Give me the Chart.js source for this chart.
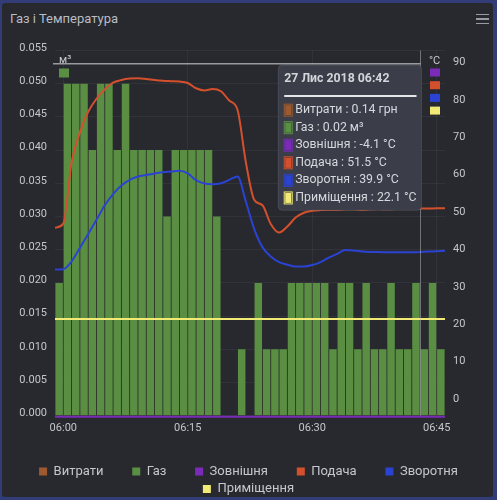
<!DOCTYPE html>
<html><head><meta charset="utf-8">
<script src="https://cdn.jsdelivr.net/npm/chart.js@4/dist/chart.umd.min.js"></script>
<style>
html,body{margin:0;padding:0;width:497px;height:500px;overflow:hidden;background:#323d78;font-family:Roboto,sans-serif;}
#card{position:absolute;left:2px;top:3px;width:491px;height:494px;background:#28292e;border-radius:3px;}
#title{position:absolute;left:10px;top:11px;font-size:13px;line-height:normal;color:#b9bcc5;}
.hb{position:absolute;left:476px;width:13px;height:1.6px;background:#9a9ca4;}
canvas{position:absolute;left:0;top:0;}
</style></head><body>
<div id="card"></div>
<div id="title">Газ і Температура</div>
<div class="hb" style="top:13.5px"></div>
<div class="hb" style="top:18.2px"></div>
<div class="hb" style="top:22.9px"></div>
<canvas id="c" width="497" height="500"></canvas>
<script>
// ---- data ----
const minutes = [-1,0,1,2,3,4,5,6,7,8,9,10,11,12,13,14,15,16,17,18,19,20,21,22,23,24,25,26,27,28,29,30,31,32,33,34,35,36,37,38,39,40,41,42,43,44,45,46];
const gas = [0.02,0.05,0.05,0.05,0.04,0.05,0.05,0.04,0.05,0.04,0.04,0.04,0.04,0.03,0.04,0.04,0.04,0.04,0.04,0.03,0,0,0.01,0,0.02,0.01,0.01,0.01,0.02,0.02,0.02,0.02,0.02,0.01,0.02,0.02,0.01,0.02,0.01,0.01,0.02,0.01,0.01,0.02,0.01,0.02,0.01,null];
const cost = [0.14,0.35,0.35,0.35,0.28,0.35,0.35,0.28,0.35,0.28,0.28,0.28,0.28,0.21,0.28,0.28,0.28,0.28,0.28,0.21,0,0,0.07,0,0.14,0.07,0.07,0.07,0.14,0.14,0.14,0.14,0.14,0.07,0.14,0.14,0.07,0.14,0.07,0.07,0.14,0.07,0.07,0.14,0.07,0.14,0.07,null];
const outdoor = [-4.1,-4.1,-4.1,-4.1,-4.1,-4.1,-4.1,-4.1,-4.1,-4.1,-4.1,-4.1,-4.1,-4.1,-4.1,-4.1,-4.1,-4.1,-4.1,-4.1,-4.1,-4.1,-4.1,-4.1,-4.1,-4.1,-4.1,-4.1,-4.1,-4.1,-4.1,-4.1,-4.1,-4.1,-4.1,-4.1,-4.1,-4.1,-4.1,-4.1,-4.1,-4.1,-4.1,-4.1,-4.1,-4.1,-4.1,-4.1];
const supply = [46.5,47.6,64,72,77.5,81,83.5,85.3,86,86.4,86.5,86.3,86,85.8,85.7,85.6,85.2,83.8,83.2,83.6,83,80.5,78,64,54,52.5,47.5,45.2,46.8,49.2,50.5,51,51.2,51.3,51.3,51.4,51.4,51.3,51.4,51.5,51.4,51.5,51.5,51.5,51.6,51.6,51.7,51.7];
const returnFlow = [35.3,35.4,37.5,41.1,44.8,48.6,52.5,55.5,57.8,59.3,60.2,60.6,61,61.3,61.5,61.7,61,59.2,58.3,58.1,58.4,59.3,60.2,53.5,46.2,41.3,38.8,37.3,36.6,36.1,36.1,36.5,37.3,38.5,39.5,40.5,40.4,40.1,40,40,39.9,39.9,39.9,39.9,40,40.1,40.2,40.3];
const room = [22.1,22.1,22.1,22.1,22.1,22.1,22.1,22.1,22.1,22.1,22.1,22.1,22.1,22.1,22.1,22.1,22.1,22.1,22.1,22.1,22.1,22.1,22.1,22.1,22.1,22.1,22.1,22.1,22.1,22.1,22.1,22.1,22.1,22.1,22.1,22.1,22.1,22.1,22.1,22.1,22.1,22.1,22.1,22.1,22.1,22.1,22.1,22.1];
const seriesNames = ['Витрати','Газ','Зовнішня','Подача','Зворотня','Приміщення'];
const units = ['грн','м³','°C','°C','°C','°C'];
const decimals = [2,2,1,1,1,1];
const xTicks = [0,15,30,45];
const xTickLabels = ['06:00','06:15','06:30','06:45'];
const gasTicks = [0,0.005,0.01,0.015,0.02,0.025,0.03,0.035,0.04,0.045,0.05,0.055];
const tempTicks = [0,10,20,30,40,50,60,70,80,90];
const dateLabel = '27 Лис 2018';
const hoverMinute = 42;
const crosshairMinute = 43.05;
const crosshairGas = 0.053;
const colors = ['#9c5a2e','#5a8f43','#7a2cb8','#d4502d','#2b43d2','#f1ea74'];

// ---- chart ----
Chart.defaults.font.family = 'Roboto';
Chart.defaults.color = '#c3c6cc';
const pad2 = n => (n < 10 ? '0' : '') + n;
const minuteLabel = m => m < 0 ? '05:' + pad2(60 + m) : '06:' + pad2(m);
const xy = (arr, shift) => arr.map((v, i) => ({x: minutes[i] + shift, y: v}));

Chart.Tooltip.positioners.besideCrosshair = function () {
  const c = this.chart;
  return {x: c.scales.x.getPixelForValue(crosshairMinute) - 3, y: c.chartArea.top + 14.5};
};

const decor = {
  id: 'decor',
  afterDatasetsDraw(ch) {
    const {ctx, chartArea: a, scales} = ch;
    const cx = scales.x.getPixelForValue(crosshairMinute);
    const cy = scales.yGas.getPixelForValue(crosshairGas);
    ctx.save();
    ctx.strokeStyle = 'rgba(190,192,198,0.5)'; ctx.lineWidth = 1;
    ctx.beginPath(); ctx.moveTo(cx, a.top); ctx.lineTo(cx, a.bottom); ctx.stroke();
    ctx.strokeStyle = 'rgba(200,202,208,0.7)'; ctx.lineWidth = 1.5;
    ctx.beginPath(); ctx.moveTo(a.left - 2, cy); ctx.lineTo(cx, cy); ctx.stroke();
    ctx.font = '11px Roboto'; ctx.textBaseline = 'alphabetic'; ctx.fillStyle = '#c8cad0';
    ctx.fillText(units[1], a.left + 4, a.top + 12);
    ctx.fillText('°C', a.right - 16, a.top + 13);
    ctx.fillStyle = colors[1]; ctx.fillRect(a.left + 4, a.top + 18, 10, 9);
    [2, 3, 4, 5].forEach((d, k) => { ctx.fillStyle = colors[d]; ctx.fillRect(a.right - 15, a.top + 18 + k * 12.7, 10, 8); });
    ctx.restore();
  },
  afterTooltipDraw(ch, args) {
    const t = args.tooltip; const ctx = ch.ctx;
    if (!t || !t.opacity) return;
    ctx.save();
    ctx.strokeStyle = '#e4e5e8'; ctx.lineWidth = 2;
    ctx.beginPath(); ctx.moveTo(t.x + 6, t.y + 31); ctx.lineTo(t.x + t.width - 5, t.y + 31); ctx.stroke();
    ctx.restore();
  }
};

const lineDs = (i, arr, extra) => Object.assign({
  type: 'line', label: seriesNames[i], data: xy(arr, 0), yAxisID: 'yTemp',
  borderColor: colors[i], backgroundColor: colors[i], borderWidth: 2,
  pointRadius: 0, pointHoverRadius: 0, cubicInterpolationMode: 'monotone', order: 1
}, extra || {});

const chart = new Chart(document.getElementById('c'), {
  type: 'line',
  data: {
    datasets: [
      lineDs(0, cost, {yAxisID: 'yCost', showLine: false}),
      {type: 'bar', label: seriesNames[1], data: xy(gas, 0.5), yAxisID: 'yGas',
       backgroundColor: colors[1], borderWidth: 0, barPercentage: 0.9, categoryPercentage: 1, order: 10},
      lineDs(2, outdoor, {clip: 6}),
      lineDs(3, supply),
      lineDs(4, returnFlow),
      lineDs(5, room)
    ]
  },
  options: {
    responsive: false, animation: false, devicePixelRatio: 1,
    interaction: {mode: 'index', intersect: false},
    layout: {padding: {top: 50.5, left: 0, right: 0, bottom: -5.5}},
    scales: {
      x: {type: 'linear', min: -1, max: 46, offset: false,
          grid: {color: 'rgba(255,255,255,0.05)', drawTicks: false, offset: false}, border: {display: false},
          ticks: {font: {size: 11}, color: '#c3c6cc', padding: 6, maxRotation: 0, autoSkip: false,
                  callback: v => { const i = xTicks.indexOf(v); return i >= 0 ? xTickLabels[i] : ''; }},
          afterBuildTicks: s => { s.ticks = xTicks.map(v => ({value: v})); },
          afterFit: s => { s.height = 44.8; }},
      yGas: {type: 'linear', position: 'left', min: 0, max: 0.055,
          grid: {color: 'rgba(255,255,255,0.05)', drawTicks: false}, border: {display: false},
          ticks: {font: {size: 11}, color: '#c3c6cc', padding: 8, labelOffset: -2.5, callback: v => Number(v).toFixed(3)},
          afterBuildTicks: s => { s.ticks = gasTicks.map(v => ({value: v})); },
          afterFit: s => { s.width = 55; }},
      yTemp: {type: 'linear', position: 'right', min: -3.8, max: 93.9,
          grid: {display: false, drawTicks: false}, border: {display: false},
          ticks: {font: {size: 11}, color: '#c3c6cc', padding: 8, labelOffset: -2.5, callback: v => String(v)},
          afterBuildTicks: s => { s.ticks = tempTicks.map(v => ({value: v})); },
          afterFit: s => { s.width = 52; }},
      yCost: {type: 'linear', display: false, min: 0, max: 1}
    },
    plugins: {
      title: {display: false},
      legend: {position: 'bottom',
        labels: {boxWidth: 8, boxHeight: 8, padding: 4.5, font: {size: 13}, color: '#c4c7ce',
          generateLabels: ch => ch.data.datasets.map((d, i) => ({
            text: d.label + (i < 4 ? '\u2003\u2002\u2004' : ''), fillStyle: colors[i], strokeStyle: colors[i],
            lineWidth: 0, hidden: false, datasetIndex: i, fontColor: '#c4c7ce'}))}},
      tooltip: {enabled: true, position: 'besideCrosshair', xAlign: 'right', yAlign: 'top',
        caretSize: 0, caretPadding: 0, cornerRadius: 4,
        backgroundColor: '#3b3e49', borderColor: 'rgba(255,255,255,0.1)', borderWidth: 1,
        titleFont: {size: 12.3, weight: 'bold'}, titleColor: '#d3d5da', titleMarginBottom: 16,
        bodyFont: {size: 12.3}, bodyColor: '#d6d8dd', bodySpacing: 2.8,
        padding: {top: 7, bottom: 5, left: 6, right: 5},
        boxWidth: 8, boxHeight: 12, boxPadding: 1, multiKeyBackground: 'transparent',
        callbacks: {
          title: items => dateLabel + ' ' + minuteLabel(minutes[items[0].dataIndex]),
          label: c => seriesNames[c.datasetIndex] + ' : ' + c.parsed.y.toFixed(decimals[c.datasetIndex]) + ' ' + units[c.datasetIndex],
          labelColor: c => ({borderColor: colors[c.datasetIndex], backgroundColor: colors[c.datasetIndex], borderWidth: 1})
        }}
    }
  },
  plugins: [decor]
});

const hoverIndex = minutes.indexOf(hoverMinute);
chart.tooltip.setActiveElements(
  seriesNames.map((_, d) => ({datasetIndex: d, index: hoverIndex})),
  {x: chart.scales.x.getPixelForValue(crosshairMinute), y: chart.scales.yGas.getPixelForValue(crosshairGas)});
chart.update();
</script>
</body></html>
